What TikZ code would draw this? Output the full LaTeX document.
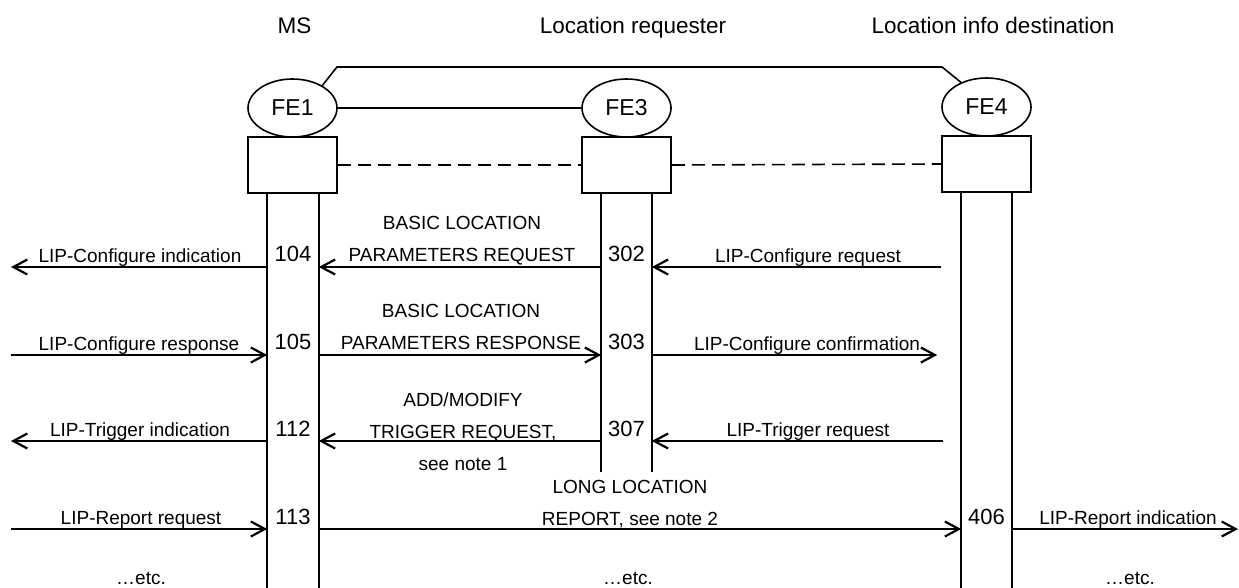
\documentclass[tikz,border=0pt]{standalone}
\usepackage{fontspec}
\setmainfont{Liberation Sans}
\usetikzlibrary{shapes.geometric,arrows.meta}
\begin{document}
\begin{tikzpicture}[x=1pt, y=-1pt,
  fe/.style={draw, ellipse, line width=1.6pt, minimum width=89pt, minimum height=58pt, inner sep=0pt, font=\fontsize{23}{26}\selectfont},
  febox/.style={draw, line width=1.6pt, minimum width=89pt, minimum height=56pt, inner sep=0pt},
  life/.style={line width=1.6pt},
  msg/.style={line width=2.2pt, -{Straight Barb[length=14pt, width=15pt]}},
  lbl/.style={anchor=base, inner sep=0pt, align=center, font=\fontsize{19}{32}\selectfont},
  num/.style={anchor=base, inner sep=0pt, font=\fontsize{22}{26}\selectfont},
  hdr/.style={anchor=base, inner sep=0pt, font=\fontsize{22.5}{26}\selectfont}]
\useasboundingbox (0,0) rectangle (1239,587);
\node[hdr] (hms) at (294.5,33) {MS};
\node[hdr] (hreq) at (633,33) {Location requester};
\node[hdr] (hdest) at (993,33) {Location info destination};
\node[fe] (fe1) at (292.5,108) {FE1};
\node[fe] (fe3) at (626.5,108) {FE3};
\node[fe] (fe4) at (986.5,107) {FE4};
\node[febox] (box1) at (292.5,165) {};
\node[febox] (box3) at (626.5,165) {};
\node[febox] (box4) at (986.5,164) {};
\coordinate (topL) at (337,67);
\coordinate (topR) at (942,67);
\draw[life] (fe1.37) -- (topL) -- (topR) -- (fe4.136);
\draw[life] (fe1.east) -- (fe3.west);
\draw[life, dash pattern=on 13pt off 7pt] (box1.east) -- (box3.west);
\draw[life, dash pattern=on 13pt off 7pt] (box3.east) -- (box4.west);
\coordinate (ms-a) at ([xshift=20pt]box1.south west);
\coordinate (ms-b) at ([xshift=-19pt]box1.south east);
\coordinate (rq-a) at ([xshift=20pt]box3.south west);
\coordinate (rq-b) at ([xshift=-20pt]box3.south east);
\coordinate (ld-a) at ([xshift=20pt]box4.south west);
\coordinate (ld-b) at ([xshift=-20pt]box4.south east);
\coordinate (bottom) at (0,590);
\coordinate (rqend) at (0,472);
\draw[life] (ms-a) -- (ms-a |- bottom);
\draw[life] (ms-b) -- (ms-b |- bottom);
\draw[life] (rq-a) -- (rq-a |- rqend);
\draw[life] (rq-b) -- (rq-b |- rqend);
\draw[life] (ld-a) -- (ld-a |- bottom);
\draw[life] (ld-b) -- (ld-b |- bottom);
\coordinate (westend) at (11,0);
\coordinate (eastend) at (1238,0);
\coordinate (r1) at (0,267);
\coordinate (r2) at (0,355);
\coordinate (r3) at (0,441);
\coordinate (r4) at (0,529);
\draw[msg] (ms-a |- r1) -- (westend |- r1);
\draw[msg] (rq-a |- r1) -- (ms-b |- r1);
\draw[msg] (box4.west |- r1) -- (rq-b |- r1);
\draw[msg] (westend |- r2) -- (ms-a |- r2);
\draw[msg] (ms-b |- r2) -- (rq-a |- r2);
\draw[msg] (rq-b |- r2) -- ([xshift=-4pt]box4.west |- r2);
\draw[msg] (ms-a |- r3) -- (westend |- r3);
\draw[msg] (rq-a |- r3) -- (ms-b |- r3);
\draw[msg] ([xshift=2pt]box4.west |- r3) -- (rq-b |- r3);
\draw[msg] (westend |- r4) -- (ms-a |- r4);
\draw[msg] (ms-b |- r4) -- (ld-a |- r4);
\draw[msg] (ld-b |- r4) -- (eastend |- r4);
\node[lbl] (cfgind) at (140,262) {LIP-Configure indication};
\node[lbl] (cfgreq) at (808,262) {LIP-Configure request};
\node[lbl] (bslreq) at (462,261) {BASIC LOCATION\\PARAMETERS REQUEST};
\node[lbl] (cfgrsp) at (139,350) {LIP-Configure response};
\node[lbl] (cfgcnf) at (807,350) {LIP-Configure confirmation};
\node[lbl] (bslrsp) at (461,349) {BASIC LOCATION\\PARAMETERS RESPONSE};
\node[lbl] (trgind) at (140,436) {LIP-Trigger indication};
\node[lbl] (trgreq) at (808,436) {LIP-Trigger request};
\node[lbl] (addmod) at (463,470) {ADD/MODIFY\\TRIGGER REQUEST,\\see note 1};
\node[lbl] (repreq) at (141,524) {LIP-Report request};
\node[lbl] (repind) at (1128,524) {LIP-Report indication};
\node[lbl] (llrep) at (630,525) {LONG LOCATION\\REPORT, see note 2};
\node[num] (n104) at (293,261) {104};
\node[num] (n302) at (626.5,261) {302};
\node[num] (n105) at (293,349) {105};
\node[num] (n303) at (626.5,349) {303};
\node[num] (n112) at (293,436) {112};
\node[num] (n307) at (626.5,436) {307};
\node[num] (n113) at (293,524) {113};
\node[num] (n406) at (986.5,524) {406};
\node[lbl] (etc1) at (141,584) {…etc.};
\node[lbl] (etc2) at (628,584) {…etc.};
\node[lbl] (etc3) at (1130,584) {…etc.};
\end{tikzpicture}
\end{document}
